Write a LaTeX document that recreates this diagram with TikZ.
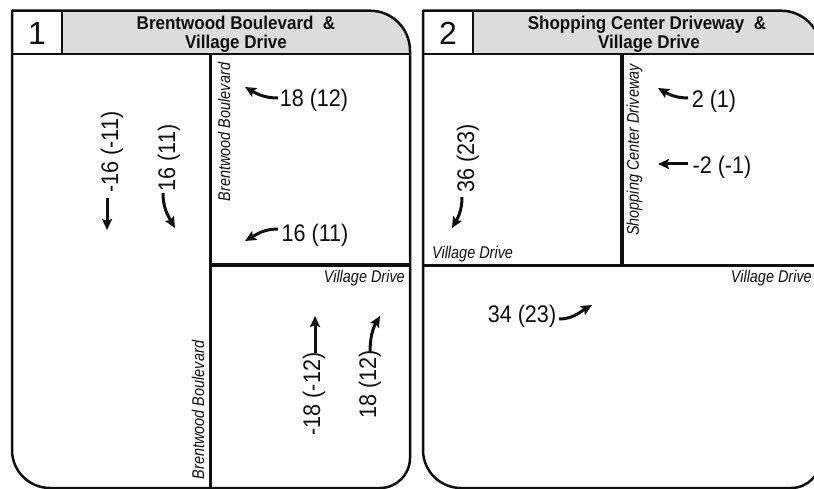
\documentclass[tikz,border=0pt]{standalone}
\usepackage{fontspec}
\setmainfont{Liberation Sans}
\newfontfamily\numfont[FakeStretch=0.9]{Liberation Sans}
\newfontfamily\roadfont[FakeStretch=0.85]{Liberation Sans}
\newfontfamily\headfont[FakeStretch=0.92]{Liberation Sans}
\usetikzlibrary{arrows.meta}
\definecolor{hdrgray}{RGB}{220,220,220}
\definecolor{ink}{RGB}{15,15,15}
\begin{document}
\begin{tikzpicture}[x=1pt,y=-1pt,
  frame/.style={draw=ink,line width=2.5pt,line join=round},
  divider/.style={draw=ink,line width=3.2pt},
  hline/.style={draw=ink,line width=2.5pt},
  vol/.style={font=\numfont\fontsize{24}{26}\selectfont,inner sep=0pt,text=ink},
  road/.style={font=\roadfont\itshape\fontsize{17}{19}\selectfont,inner sep=0pt,text=ink},
  hdr/.style={font=\headfont\bfseries\fontsize{18.5}{20}\selectfont,inner sep=0pt,text=ink},
  num/.style={font=\fontsize{32}{34}\selectfont,inner sep=0pt,text=ink},
  arr/.style={draw=ink,line width=3pt,-{Stealth[length=11pt,width=10pt,inset=2pt]}}]
\useasboundingbox (0,0) rectangle (814,489);
\begin{scope}
\clip (0,0) rectangle (814,489);
% header fills
\fill[hdrgray] (62,10.7) -- (370,10.7) .. controls (392.1,10.7) and (410,28.6) .. (410,50.7) -- (410,54) -- (62,54) -- cycle;
\fill[hdrgray] (473,10.7) -- (781,10.7) .. controls (803.1,10.7) and (821,28.6) .. (821,50.7) -- (821,54) -- (473,54) -- cycle;
% road dividers
\draw[divider] (210.5,54) -- (210.5,488);
\draw[divider] (210.5,265) -- (410,265);
\draw[divider] (622,54) -- (622,265.5);
\draw[divider] (423,265.5) -- (821,265.5);
% header lines
\draw[hline] (62,10.7) -- (62,54);
\draw[hline] (12,54) -- (410,54);
\draw[hline] (473,10.7) -- (473,54);
\draw[hline] (423,54) -- (821,54);
% frames
\draw[frame] (12,10.7) -- (370,10.7) .. controls (392.1,10.7) and (410,28.6) .. (410,50.7) -- (410,458) .. controls (410,474.6) and (396.6,488) .. (380,488) -- (50,488) .. controls (29,488) and (12,471) .. (12,450) -- cycle;
\draw[frame] (423,10.7) -- (781,10.7) .. controls (803.1,10.7) and (821,28.6) .. (821,50.7) -- (821,458) .. controls (821,474.6) and (807.6,488) .. (791,488) -- (461,488) .. controls (440,488) and (423,471) .. (423,450) -- cycle;

% ---------- panel 1 ----------
\node[num,anchor=base] (n1) at (37,45) {1};
\node[hdr,anchor=base] (h1a) at (236,29.3) {Brentwood Boulevard\ \ \&};
\node[hdr,anchor=base] (h1b) at (236,48.3) {Village Drive};
\node[road,rotate=90] (r1a) at (224,132) {Brentwood Boulevard};
\node[road,anchor=north east] (r1b) at (405,270) {Village Drive};
\node[road,rotate=90] (r1c) at (198,410) {Brentwood Boulevard};
\node[vol] (t1) at (314,100) {18 (12)};
\node[vol] (t2) at (315,235) {16 (11)};
\node[vol,rotate=90] (t3) at (112,152) {-16 (-11)};
\node[vol,rotate=90] (t4) at (169,158) {16 (11)};
\node[vol,rotate=90] (t5) at (314,394) {-18 (-12)};
\node[vol,rotate=90] (t6) at (370,384) {18 (12)};

\coordinate (a1s) at (278,98);  \coordinate (a1e) at (245,87);
\coordinate (a2s) at (278,229); \coordinate (a2e) at (245,241);
\coordinate (a3s) at (107,198); \coordinate (a3e) at (107,230);
\coordinate (a4s) at (163,193); \coordinate (a4e) at (175,228);
\coordinate (a5s) at (315,353); \coordinate (a5e) at (315,316);
\coordinate (a6s) at (370,353); \coordinate (a6e) at (380,316);
\draw[arr] (a1s) to[out=180,in=-30] (a1e);
\draw[arr] (a2s) to[out=180,in=30] (a2e);
\draw[arr] (a3s) -- (a3e);
\draw[arr] (a4s) to[out=270,in=120] (a4e);
\draw[arr] (a5s) -- (a5e);
\draw[arr] (a6s) to[out=90,in=240] (a6e);

% ---------- panel 2 ----------
\node[num,anchor=base] (n2) at (448,45) {2};
\node[hdr,anchor=base] (h2a) at (647,29.3) {Shopping Center Driveway\ \ \&};
\node[hdr,anchor=base] (h2b) at (649,48.3) {Village Drive};
\node[road,rotate=90] (r2a) at (634.5,150) {Shopping Center Driveway};
\node[road,anchor=south west] (r2b) at (432,262) {Village Drive};
\node[road,anchor=north east] (r2c) at (812,270) {Village Drive};
\node[vol] (t7) at (714,101) {2 (1)};
\node[vol] (t8) at (722,167) {-2 (-1)};
\node[vol,rotate=90] (t9) at (468,158) {36 (23)};
\node[vol] (t10) at (522,316) {34 (23)};

\coordinate (a7s) at (688,98);   \coordinate (a7e) at (658,88);
\coordinate (a8s) at (688,164);  \coordinate (a8e) at (658,164);
\coordinate (a9s) at (462,197);  \coordinate (a9e) at (452,228);
\coordinate (a10s) at (559,319); \coordinate (a10e) at (592,305);
\draw[arr] (a7s) to[out=180,in=-30] (a7e);
\draw[arr] (a8s) -- (a8e);
\draw[arr] (a9s) to[out=270,in=60] (a9e);
\draw[arr] (a10s) to[out=0,in=210] (a10e);
\end{scope}
\end{tikzpicture}
\end{document}
